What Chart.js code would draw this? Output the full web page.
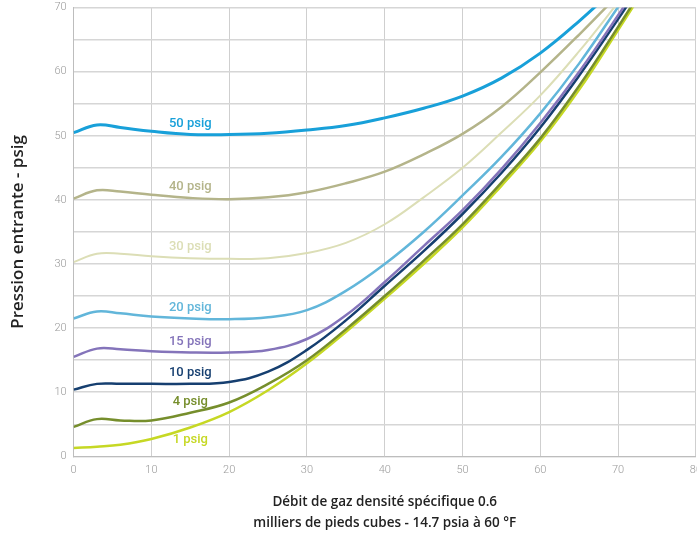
<!DOCTYPE html>
<html>
<head>
<meta charset="utf-8">
<script src="https://cdn.jsdelivr.net/npm/chart.js@4"></script>
<style>
  body { margin: 0; background: #fff; }
  #wrap { width: 697px; height: 533px; overflow: hidden; }
  #box { width: 709px; height: 539px; margin-top: -6px; }
</style>
</head>
<body>
<div id="wrap"><div id="box"><canvas id="chart1"></canvas></div></div>
<script>
// débit (milliers de pieds cubes) en x, pression entrante en y
const flow = [0, 3, 6, 10, 15, 20, 25, 30, 35, 40, 45, 50, 55, 60, 65, 70, 75];

const p50 = [50.5, 51.7, 51.3, 50.7, 50.2, 50.2, 50.4, 50.9, 51.6, 52.8, 54.3, 56.2, 59.0, 62.9, 67.9, 73.5, 79.5];
const p40 = [40.2, 41.5, 41.3, 40.8, 40.3, 40.1, 40.4, 41.2, 42.6, 44.4, 47.1, 50.3, 54.5, 59.9, 65.8, 72.0, 78.5];
const p30 = [30.3, 31.6, 31.6, 31.2, 30.9, 30.8, 30.9, 31.7, 33.3, 36.2, 40.4, 45.0, 50.5, 56.3, 63.2, 70.8, 78.5];
const p20 = [21.5, 22.6, 22.3, 21.8, 21.5, 21.4, 21.7, 22.8, 25.8, 30.0, 35.0, 40.7, 46.7, 53.5, 61.3, 70.1, 79.0];
const p15 = [15.5, 16.8, 16.7, 16.4, 16.2, 16.2, 16.6, 18.3, 22.0, 27.2, 32.8, 38.4, 44.8, 52.0, 60.0, 68.8, 78.0];
const p10 = [10.4, 11.3, 11.3, 11.3, 11.3, 11.6, 13.2, 16.6, 21.2, 26.6, 32.0, 37.8, 44.2, 51.3, 59.4, 68.2, 77.5];
const p4  = [4.6, 5.8, 5.6, 5.6, 6.8, 8.4, 11.3, 15.0, 19.8, 25.0, 30.5, 36.2, 42.7, 49.6, 57.8, 67.0, 76.5];
const p1  = [1.3, 1.5, 1.8, 2.7, 4.5, 6.9, 10.3, 14.5, 19.4, 24.6, 30.0, 35.7, 42.2, 49.1, 57.2, 66.5, 76.0];

const names = ['50 psig', '40 psig', '30 psig', '20 psig', '15 psig', '10 psig', '4 psig', '1 psig'];
const series = [p50, p40, p30, p20, p15, p10, p4, p1];
const colors = ['#18a0d9', '#b4b48a', '#dcdeb6', '#62b6da', '#8474ba', '#163f70', '#768e2c', '#c6d824'];
const widths = [3, 2.5, 2, 2.5, 2.5, 2.5, 2.5, 2.5];

const xTicks = [0, 10, 20, 30, 40, 50, 60, 70, 80];
const yTicks = [0, 10, 20, 30, 40, 50, 60, 70];

// étiquette posée au point x=15 de chaque courbe
const labelPlugin = {
    id: 'curveLabels',
    afterDatasetsDraw(chart) {
        let ctx = chart.ctx;
        ctx.save();
        ctx.font = '500 13px Roboto';
        ctx.textAlign = 'center';
        ctx.textBaseline = 'middle';
        chart.data.datasets.forEach(function (ds, i) {
            let pt = chart.getDatasetMeta(i).data[4];
            let dy = ds.labelBelow ? 12 : -11;
            ctx.fillStyle = ds.borderColor;
            ctx.fillText(ds.label, pt.x, pt.y + dy);
        });
        ctx.restore();
    }
};

let datasets = [];
for (let i = 0; i < series.length; i++) {
    datasets.push({
        label: names[i],
        data: flow.map(function (f, j) { return { x: f, y: series[i][j] }; }),
        borderColor: colors[i],
        borderWidth: widths[i],
        pointRadius: 0,
        fill: false,
        tension: 0.4,
        labelBelow: i == series.length - 1
    });
}

let ctx = document.getElementById('chart1').getContext('2d');
let myChart = new Chart(ctx, {
    type: 'line',
    data: { datasets: datasets },
    options: {
        responsive: true,
        maintainAspectRatio: false,
        animation: false,
        layout: { padding: { top: 1, left: 8, right: 0, bottom: 0 } },
        plugins: {
            legend: { display: false },
            tooltip: { enabled: false }
        },
        scales: {
            x: {
                type: 'linear',
                min: 0,
                max: 80,
                afterBuildTicks: function (axis) {
                    axis.ticks = xTicks.map(function (v) { return { value: v }; });
                },
                grid: { color: '#cfcfcf', lineWidth: 1, drawTicks: false },
                border: { color: '#bdbdbd' },
                ticks: {
                    color: '#9a9a9a',
                    font: { family: 'Roboto', size: 11, weight: '300' },
                    padding: 7,
                    maxRotation: 0
                },
                title: {
                    display: true,
                    text: ['Débit de gaz densité spécifique 0.6', 'milliers de pieds cubes - 14.7 psia à 60 °F'],
                    color: '#222',
                    font: { family: 'Open Sans', size: 13.5, weight: '600', lineHeight: 1.5 },
                    padding: { top: 9, bottom: 0 }
                }
            },
            y: {
                min: 0,
                max: 70,
                ticks: {
                    stepSize: 5,
                    color: '#9a9a9a',
                    font: { family: 'Roboto', size: 11, weight: '300' },
                    padding: 7,
                    callback: function (v) { return yTicks.includes(v) ? v : ''; }
                },
                grid: { color: '#d6d6d6', lineWidth: 1.5, drawTicks: false },
                border: { color: '#bdbdbd' },
                title: {
                    display: true,
                    text: 'Pression entrante - psig',
                    color: '#222',
                    font: { family: 'Open Sans', size: 17, weight: '600' },
                    padding: { top: 0, bottom: 19 }
                }
            }
        }
    },
    plugins: [labelPlugin]
});
</script>
</body>
</html>
